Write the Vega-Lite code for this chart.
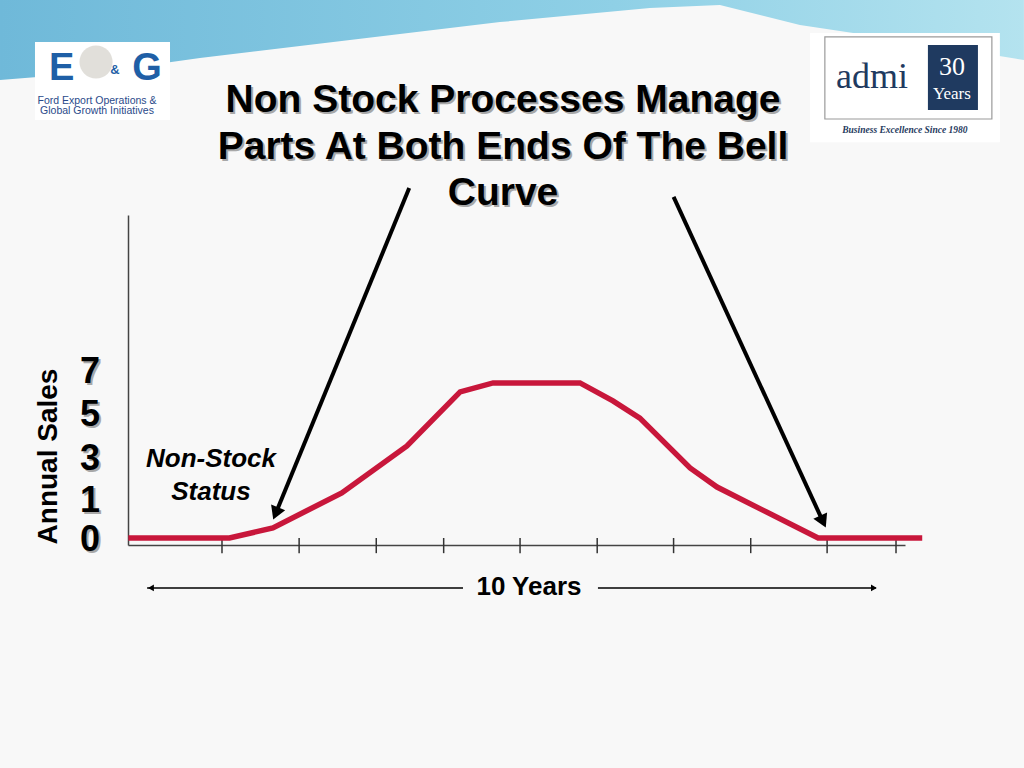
{
  "$schema": "https://vega.github.io/schema/vega-lite/v6.json",
  "width": 777,
  "height": 330,
  "autosize": {"type": "none"},
  "padding": {"left": 128, "top": 215, "right": 119, "bottom": 223},
  "background": "#f8f8f8",
  "config": {"view": {"stroke": null}, "font": "Liberation Sans"},
  "datasets": {
    "sales": [
      {"year": -0.25, "sales": 0},
      {"year": 1.1, "sales": 0},
      {"year": 1.68, "sales": 0.26},
      {"year": 2.6, "sales": 1.29},
      {"year": 3.47, "sales": 3.5},
      {"year": 4.18, "sales": 5.98},
      {"year": 4.62, "sales": 6.4},
      {"year": 5.78, "sales": 6.4},
      {"year": 6.22, "sales": 5.56},
      {"year": 6.58, "sales": 4.77},
      {"year": 7.25, "sales": 2.48},
      {"year": 7.61, "sales": 1.57},
      {"year": 8.96, "sales": 0},
      {"year": 10.35, "sales": 0}
    ],
    "ticks": [
      {"year": 1}, {"year": 2.03}, {"year": 3.06}, {"year": 3.96}, {"year": 4.98},
      {"year": 6.01}, {"year": 7.03}, {"year": 8.06}, {"year": 9.08}, {"year": 10}
    ],
    "ylabels": [
      {"x": -0.629, "v": 0}, {"x": -0.629, "v": 1}, {"x": -0.629, "v": 3}, {"x": -0.629, "v": 5}, {"x": -0.629, "v": 7}
    ],
    "title": [
      {"x": 4.752, "y": 19.54, "t": "Non Stock Processes Manage\nParts At Both Ends Of The Bell\nCurve"}
    ],
    "band": [
      {"x": -1.964, "y": 20.47},
      {"x": -0.629, "y": 20.84},
      {"x": 0.706, "y": 21.49},
      {"x": 2.709, "y": 22.33},
      {"x": 4.712, "y": 23.16},
      {"x": 6.714, "y": 23.81},
      {"x": 7.649, "y": 23.95},
      {"x": 8.717, "y": 23.03},
      {"x": 10.052, "y": 22.33},
      {"x": 11.708, "y": 21.4}
    ]
  },
  "layer": [
    {
      "data": {"name": "band"},
      "mark": {
        "type": "area",
        "clip": false,
        "fill": {
          "gradient": "linear", "x1": 0, "y1": 0, "x2": 1, "y2": 0,
          "stops": [{"offset": 0, "color": "#6fb9d9"}, {"offset": 0.6, "color": "#8fd0e6"}, {"offset": 1, "color": "#b4e3ef"}]
        }
      },
      "encoding": {
        "x": {"field": "x", "type": "quantitative", "scale": {"domain": [-0.255, 10.12], "nice": false, "zero": false}, "axis": {"domainColor": "#444444", "domainWidth": 1.5, "labels": false, "ticks": false, "title": null, "grid": false}},
        "y": {"field": "y", "type": "quantitative", "scale": {"domain": [-0.18, 0, 1, 3, 5, 7, 14.2], "range": [330, 323, 284, 242, 198, 155, 0], "nice": false, "zero": false},
          "axis": {"values": [0, 1, 3, 5, 7], "ticks": false, "grid": false, "domainColor": "#444444", "domainWidth": 1.5, "labels": false,
            "title": "Annual Sales", "titleFontSize": 28, "titleFontWeight": "bold", "titleFont": "Liberation Sans", "titleColor": "#000000",
            "titleAngle": 270, "titleX": -80, "titleY": 241, "titleBaseline": "middle", "titleAlign": "center"}},
        "y2": {"datum": 24.2}
      }
    },
    {
      "data": {"values": [{"x": -1.497, "x2": 0.306, "y": 22.235, "y2": 18.61}, {"x": 8.851, "x2": 11.387, "y": 22.653, "y2": 17.58}]},
      "mark": {"type": "rect", "fill": "#ffffff", "clip": false},
      "encoding": {
        "x": {"field": "x", "type": "quantitative"}, "x2": {"field": "x2"},
        "y": {"field": "y", "type": "quantitative"}, "y2": {"field": "y2"}
      }
    },
    {
      "data": {"values": [{"x": 9.05, "x2": 11.28, "y": 22.47, "y2": 18.66}]},
      "mark": {"type": "rect", "fill": null, "stroke": "#9a9a9a", "strokeWidth": 1.2, "clip": false},
      "encoding": {
        "x": {"field": "x", "type": "quantitative"}, "x2": {"field": "x2"},
        "y": {"field": "y", "type": "quantitative"}, "y2": {"field": "y2"}
      }
    },
    {
      "data": {"values": [{"x": 10.426, "x2": 11.094, "y": 22.096, "y2": 19.077}]},
      "mark": {"type": "rect", "fill": "#1f3a60", "clip": false},
      "encoding": {
        "x": {"field": "x", "type": "quantitative"}, "x2": {"field": "x2"},
        "y": {"field": "y", "type": "quantitative"}, "y2": {"field": "y2"}
      }
    },
    {
      "data": {"values": [{"x": -0.682, "y": 21.306}]},
      "mark": {"type": "point", "shape": "circle", "filled": true, "fill": "#dcd9d3", "size": 1100, "opacity": 0.85, "clip": false},
      "encoding": {"x": {"field": "x", "type": "quantitative"}, "y": {"field": "y", "type": "quantitative"}}
    },
    {
      "data": {"values": [{"x": -1.14, "y": 20.47, "t": "E"}, {"x": 0.0, "y": 20.47, "t": "G"}]},
      "mark": {"type": "text", "font": "Liberation Sans", "fontWeight": "bold", "fontSize": 38, "fill": "#1f5fa6", "align": "center", "baseline": "alphabetic", "clip": false},
      "encoding": {"x": {"field": "x", "type": "quantitative"}, "y": {"field": "y", "type": "quantitative"}, "text": {"field": "t"}}
    },
    {
      "data": {"values": [{"x": -0.429, "y": 20.93, "t": "&"}]},
      "mark": {"type": "text", "font": "Liberation Sans", "fontWeight": "bold", "fontSize": 13, "fill": "#1f5fa6", "align": "center", "baseline": "middle", "clip": false},
      "encoding": {"x": {"field": "x", "type": "quantitative"}, "y": {"field": "y", "type": "quantitative"}, "text": {"field": "t"}}
    },
    {
      "data": {"values": [{"x": -0.669, "y": 19.495, "t": "Ford Export Operations &"}, {"x": -0.669, "y": 19.03, "t": "Global Growth Initiatives"}]},
      "mark": {"type": "text", "font": "Liberation Sans", "fontSize": 10.5, "fill": "#2a4a8a", "align": "center", "baseline": "middle", "clip": false},
      "encoding": {"x": {"field": "x", "type": "quantitative"}, "y": {"field": "y", "type": "quantitative"}, "text": {"field": "t"}}
    },
    {
      "data": {"values": [{"x": 9.678, "y": 20.61, "t": "admi"}]},
      "mark": {"type": "text", "font": "Liberation Serif", "fontSize": 36, "fill": "#1f3a60", "align": "center", "baseline": "middle", "clip": false},
      "encoding": {"x": {"field": "x", "type": "quantitative"}, "y": {"field": "y", "type": "quantitative"}, "text": {"field": "t"}}
    },
    {
      "data": {"values": [{"x": 10.746, "y": 21.07, "t": "30"}]},
      "mark": {"type": "text", "font": "Liberation Serif", "fontSize": 26, "fill": "#ffffff", "align": "center", "baseline": "middle", "clip": false},
      "encoding": {"x": {"field": "x", "type": "quantitative"}, "y": {"field": "y", "type": "quantitative"}, "text": {"field": "t"}}
    },
    {
      "data": {"values": [{"x": 10.746, "y": 19.82, "t": "Years"}]},
      "mark": {"type": "text", "font": "Liberation Serif", "fontSize": 17, "fill": "#ffffff", "align": "center", "baseline": "middle", "clip": false},
      "encoding": {"x": {"field": "x", "type": "quantitative"}, "y": {"field": "y", "type": "quantitative"}, "text": {"field": "t"}}
    },
    {
      "data": {"values": [{"x": 10.119, "y": 18.15, "t": "Business Excellence Since 1980"}]},
      "mark": {"type": "text", "font": "Liberation Serif", "fontSize": 9.5, "fontWeight": "bold", "fontStyle": "italic", "fill": "#1f3a60", "align": "center", "baseline": "middle", "clip": false},
      "encoding": {"x": {"field": "x", "type": "quantitative"}, "y": {"field": "y", "type": "quantitative"}, "text": {"field": "t"}}
    },
    {
      "data": {"name": "title"},
      "mark": {"type": "text", "font": "Liberation Sans", "fontSize": 39, "fontWeight": "bold", "fill": "#a8a8a8", "align": "center", "baseline": "middle", "lineBreak": "\n", "lineHeight": 46.5, "dx": 2, "dy": 2, "clip": false},
      "encoding": {"x": {"field": "x", "type": "quantitative"}, "y": {"field": "y", "type": "quantitative"}, "text": {"field": "t"}}
    },
    {
      "data": {"name": "title"},
      "mark": {"type": "text", "font": "Liberation Sans", "fontSize": 39, "fontWeight": "bold", "fill": "#000000", "align": "center", "baseline": "middle", "lineBreak": "\n", "lineHeight": 46.5, "clip": false},
      "encoding": {"x": {"field": "x", "type": "quantitative"}, "y": {"field": "y", "type": "quantitative"}, "text": {"field": "t"}}
    },
    {
      "data": {"name": "ylabels"},
      "mark": {"type": "text", "font": "Liberation Sans", "fontSize": 36, "fontWeight": "bold", "fill": "#a8a8a8", "align": "right", "baseline": "middle", "dx": 2, "dy": 4, "clip": false},
      "encoding": {"x": {"field": "x", "type": "quantitative"}, "y": {"field": "v", "type": "quantitative"}, "text": {"field": "v", "type": "quantitative"}}
    },
    {
      "data": {"name": "ylabels"},
      "mark": {"type": "text", "font": "Liberation Sans", "fontSize": 36, "fontWeight": "bold", "fill": "#000000", "align": "right", "baseline": "middle", "dy": 2, "clip": false},
      "encoding": {"x": {"field": "x", "type": "quantitative"}, "y": {"field": "v", "type": "quantitative"}, "text": {"field": "v", "type": "quantitative"}}
    },
    {
      "data": {"name": "ticks"},
      "mark": {"type": "rule", "color": "#333333", "strokeWidth": 1.5, "clip": false},
      "encoding": {"x": {"field": "year", "type": "quantitative"}, "y": {"datum": 0}, "y2": {"datum": -0.39}}
    },
    {
      "data": {"name": "sales"},
      "mark": {"type": "line", "color": "#c8173b", "strokeWidth": 5.5, "strokeJoin": "miter", "clip": false},
      "encoding": {"x": {"field": "year", "type": "quantitative"}, "y": {"field": "sales", "type": "quantitative"}}
    },
    {
      "data": {"values": [{"x": 3.5, "y": 15.45, "x2": 1.717, "y2": 0.63}, {"x": 7.03, "y": 15.04, "x2": 9.025, "y2": 0.42}]},
      "mark": {"type": "rule", "color": "#000000", "strokeWidth": 4, "clip": false},
      "encoding": {"x": {"field": "x", "type": "quantitative"}, "y": {"field": "y", "type": "quantitative"}, "x2": {"field": "x2"}, "y2": {"field": "y2"}}
    },
    {
      "data": {"values": [{"x": 1.717, "y": 0.63}]},
      "mark": {"type": "point", "shape": "triangle-down", "filled": true, "color": "#000000", "size": 230, "angle": 22, "opacity": 1, "clip": false},
      "encoding": {"x": {"field": "x", "type": "quantitative"}, "y": {"field": "y", "type": "quantitative"}}
    },
    {
      "data": {"values": [{"x": 9.025, "y": 0.42}]},
      "mark": {"type": "point", "shape": "triangle-down", "filled": true, "color": "#000000", "size": 230, "angle": 335, "opacity": 1, "clip": false},
      "encoding": {"x": {"field": "x", "type": "quantitative"}, "y": {"field": "y", "type": "quantitative"}}
    },
    {
      "data": {"values": [{"x": 0.853, "y": 2.905, "t": "Non-Stock\nStatus"}]},
      "mark": {"type": "text", "font": "Liberation Sans", "fontSize": 26, "fontWeight": "bold", "fontStyle": "italic", "fill": "#000000", "align": "center", "baseline": "middle", "lineBreak": "\n", "lineHeight": 33, "clip": false},
      "encoding": {"x": {"field": "x", "type": "quantitative"}, "y": {"field": "y", "type": "quantitative"}, "text": {"field": "t"}}
    },
    {
      "data": {"values": [{"x": 0.0, "x2": 4.218}, {"x": 6.02, "x2": 9.731}]},
      "mark": {"type": "rule", "color": "#000000", "strokeWidth": 1.5, "clip": false},
      "encoding": {"x": {"field": "x", "type": "quantitative"}, "x2": {"field": "x2"}, "y": {"datum": -1.285}}
    },
    {
      "data": {"values": [{"x": 0.052}]},
      "mark": {"type": "point", "shape": "triangle-left", "filled": true, "color": "#000000", "size": 45, "opacity": 1, "clip": false},
      "encoding": {"x": {"field": "x", "type": "quantitative"}, "y": {"datum": -1.285}}
    },
    {
      "data": {"values": [{"x": 9.705}]},
      "mark": {"type": "point", "shape": "triangle-right", "filled": true, "color": "#000000", "size": 45, "opacity": 1, "clip": false},
      "encoding": {"x": {"field": "x", "type": "quantitative"}, "y": {"datum": -1.285}}
    },
    {
      "data": {"values": [{"x": 5.099, "y": -1.26, "t": "10 Years"}]},
      "mark": {"type": "text", "font": "Liberation Sans", "fontSize": 26, "fontWeight": "bold", "fill": "#000000", "align": "center", "baseline": "middle", "clip": false},
      "encoding": {"x": {"field": "x", "type": "quantitative"}, "y": {"field": "y", "type": "quantitative"}, "text": {"field": "t"}}
    }
  ]
}
